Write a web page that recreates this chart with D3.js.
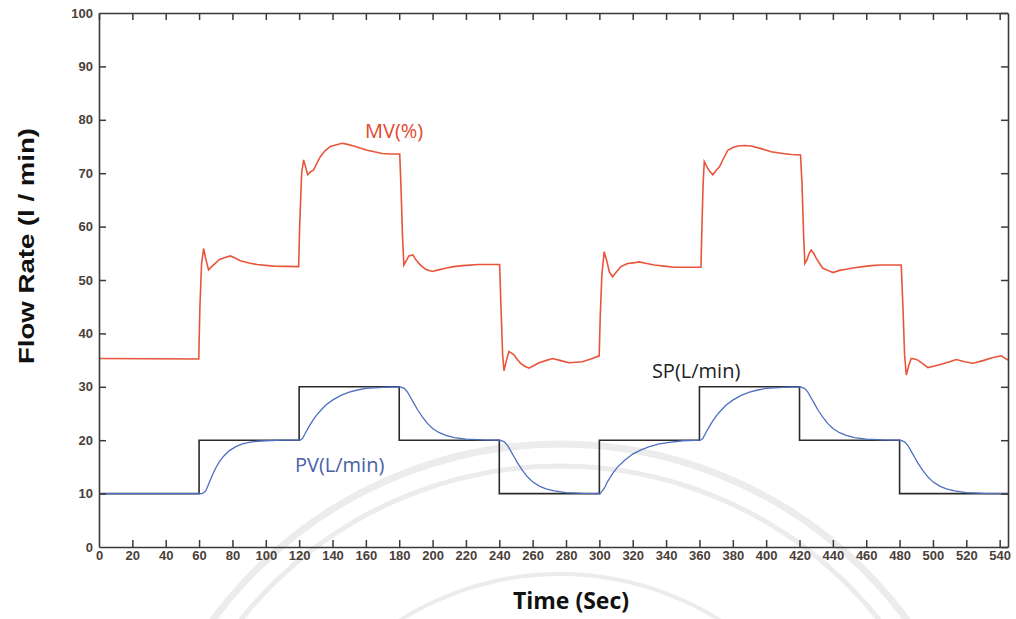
<!DOCTYPE html>
<html>
<head>
<meta charset="utf-8">
<script src="https://cdn.jsdelivr.net/npm/d3@7"></script>
<style>
  body { margin: 0; background: #fff; }
  svg { display: block; }
</style>
</head>
<body>
<div id="chart"></div>
<script>
// axis ticks
const xTicks = d3.range(0, 541, 20);
const yTicks = d3.range(0, 101, 10);

// set point (step)
const spTimes = [0, 60, 120, 180, 240, 300, 360, 420, 480, 545];
const spValues = [10, 20, 30, 20, 10, 20, 30, 20, 10, 10];

// process value
const pvTimes = [
  0, 62, 64, 66, 68, 70, 72, 75, 78, 82, 86, 90, 95, 100, 110,
  120.7, 122, 124, 126, 128, 130, 133, 136, 140, 145, 150, 155, 160, 170,
  180.5, 183, 185, 187, 189, 191, 194, 197, 200, 204, 208, 213, 220, 230,
  240.5, 243, 245, 247, 249, 251, 254, 257, 260, 264, 268, 273, 280, 290,
  300.5, 303, 305, 308, 311, 315, 320, 325, 330, 336, 342, 350,
  360.7, 362, 364, 366, 368, 370, 373, 376, 380, 385, 390, 395, 400, 410,
  420.5, 423, 425, 427, 429, 431, 434, 437, 440, 444, 448, 453, 460, 470,
  480.5, 483, 485, 487, 489, 491, 494, 497, 500, 504, 508, 513, 520, 530, 545
];
const pvValues = [
  10, 10, 10.5, 12, 13.5, 14.8, 15.9, 17.1, 18.0, 18.8, 19.3, 19.6, 19.8, 19.9, 20,
  20, 20.3, 21.5, 22.6, 23.6, 24.5, 25.6, 26.6, 27.5, 28.4, 29.0, 29.4, 29.7, 29.9,
  30, 29.7, 29.0, 27.9, 26.8, 25.7, 24.3, 23.1, 22.2, 21.4, 20.9, 20.5, 20.2, 20.05,
  20, 19.7, 19.0, 17.9, 16.8, 15.7, 14.3, 13.1, 12.2, 11.4, 10.9, 10.5, 10.2, 10.05,
  10, 11, 12.3, 13.8, 15.0, 16.2, 17.4, 18.2, 18.8, 19.3, 19.6, 19.9,
  20, 20.3, 21.5, 22.6, 23.6, 24.5, 25.6, 26.6, 27.5, 28.4, 29.0, 29.4, 29.7, 29.9,
  30, 29.7, 29.0, 27.9, 26.8, 25.7, 24.3, 23.1, 22.2, 21.4, 20.9, 20.5, 20.2, 20.05,
  20, 19.7, 19.0, 17.9, 16.8, 15.7, 14.3, 13.1, 12.2, 11.4, 10.9, 10.5, 10.2, 10.05, 10
];

// manipulated variable
const mvTimes = [
  0, 59.8, 60.5, 61.5, 62.7, 64, 65.7, 67.5, 69.7, 72, 74.7, 78.7, 81, 84.7, 90, 94.7, 104.7, 119.7,
  120.3, 121.5, 122.7, 124, 125.1, 127, 128.7, 130.5, 132.7, 135.5, 138.7, 142, 145.7, 149, 152.7,
  156.5, 160.8, 165, 169.8, 175, 180.3,
  181, 182, 182.8, 184, 185.8, 188.2, 189.5, 191.8, 193.5, 195.8, 199.8, 203.5, 207.8, 212.5, 217.8,
  227.8, 240.2,
  241, 242, 242.8, 244.3, 245.8, 247.3, 248.8, 250.8, 252.8, 255, 257.8, 260.8, 263.8, 267.8, 271.9,
  276.9, 281.9, 285.9, 289.9, 294.9, 299.9,
  300.5, 301.5, 302.9, 304.5, 306, 307.9, 310.4, 312.9, 316.9, 320.4, 323.9, 328.4, 332.9, 338.9,
  344.9, 352.9, 360.9,
  361.5, 362.2, 362.9, 364.5, 366, 368, 370, 372, 374.5, 377, 380, 383, 387, 391, 397, 403, 410, 415, 420.6,
  421.5, 422.5, 423.2, 424.5, 425.8, 427, 428.5, 430, 432, 434, 437, 440, 444, 448, 453, 458, 463, 468, 481,
  482, 483, 484, 485.5, 487, 489, 491, 494, 497, 501, 506, 510, 514, 519, 524, 530, 536, 541, 545
];
const mvValues = [
  35.3, 35.2, 45, 53, 55.9, 54, 51.9, 52.5, 53.1, 53.8, 54.1, 54.5, 54.2, 53.6, 53.2, 52.9, 52.6, 52.5,
  60, 70, 72.5, 71, 69.7, 70.3, 70.6, 71.8, 73.1, 74.2, 75.0, 75.3, 75.6, 75.4, 75.1,
  74.7, 74.3, 74.0, 73.7, 73.6, 73.6,
  68, 58, 52.8, 53.5, 54.5, 54.7, 54.0, 53.1, 52.6, 52.0, 51.6, 51.9, 52.2, 52.5, 52.7,
  52.9, 52.9,
  45, 36, 33.0, 35, 36.6, 36.3, 36.0, 35.1, 34.4, 33.9, 33.5, 34.0, 34.5, 34.9, 35.3,
  34.9, 34.5, 34.6, 34.7, 35.2, 35.8,
  43, 51, 55.3, 53.5, 51.5, 50.6, 51.6, 52.5, 53.1, 53.2, 53.4, 53.1, 52.8, 52.6,
  52.4, 52.4, 52.4,
  60, 68, 72.2, 71.2, 70.4, 69.7, 70.5, 71.2, 72.8, 74.3, 74.8, 75.1, 75.2, 75.1, 74.6, 74.0, 73.7, 73.5, 73.4,
  68, 58, 53.1, 53.8, 55, 55.6, 55.0, 54.1, 53.1, 52.2, 51.8, 51.4, 51.8, 52.0, 52.3, 52.5, 52.7, 52.8, 52.8,
  45, 36, 32.2, 34.0, 35.3, 35.2, 35.0, 34.3, 33.6, 33.9, 34.3, 34.7, 35.1, 34.7, 34.4, 34.9, 35.5, 35.8, 35.0
];

// series labels
const labels = [
  { text: 'MV(%)', t: 159.5, v: 76.6, color: '#e2492d' },
  { text: 'PV(L/min)', t: 117.5, v: 14, color: '#4a62a6' },
  { text: 'SP(L/min)', t: 331.5, v: 31.6, color: '#222' }
];

const width = 1016, height = 619;
const margin = { top: 13, right: 8, bottom: 72, left: 99 };
const innerW = width - margin.left - margin.right;
const innerH = height - margin.top - margin.bottom;

const svg = d3.select('#chart').append('svg')
  .attr('width', width)
  .attr('height', height);

// faint watermark arcs behind the chart
const wm = svg.append('g').attr('fill', 'none').attr('stroke', '#ececec');
wm.append('circle').attr('cx', 560).attr('cy', 874).attr('r', 430).attr('stroke-width', 7);
wm.append('circle').attr('cx', 560).attr('cy', 874).attr('r', 408).attr('stroke-width', 5);
wm.append('circle').attr('cx', 560).attr('cy', 874).attr('r', 300).attr('stroke-width', 4);

const g = svg.append('g').attr('transform', `translate(${margin.left},${margin.top})`);

const x = d3.scaleLinear().domain([0, 545]).range([0, innerW]);
const y = d3.scaleLinear().domain([0, 100]).range([innerH, 0]);

// lines
const line = d3.line().x(d => x(d[0])).y(d => y(d[1]));

g.append('path')
  .datum(d3.zip(spTimes, spValues))
  .attr('fill', 'none')
  .attr('stroke', '#2b2b2b')
  .attr('stroke-width', 1.6)
  .attr('d', line.curve(d3.curveStepAfter));

g.append('path')
  .datum(d3.zip(pvTimes, pvValues))
  .attr('fill', 'none')
  .attr('stroke', '#4d6fc2')
  .attr('stroke-width', 1.3)
  .attr('d', line.curve(d3.curveLinear));

g.append('path')
  .datum(d3.zip(mvTimes, mvValues))
  .attr('fill', 'none')
  .attr('stroke', '#e8553a')
  .attr('stroke-width', 1.6)
  .attr('d', line.curve(d3.curveLinear));

// axes: ticks inside on all four sides
const tickColor = '#3a3a3a';
const axB = g.append('g').attr('transform', `translate(0,${innerH})`)
  .call(d3.axisBottom(x).tickValues(xTicks).tickSizeInner(-7).tickSizeOuter(0).tickPadding(4));
const axT = g.append('g')
  .call(d3.axisTop(x).tickValues(xTicks).tickSizeInner(-7).tickSizeOuter(0).tickFormat(''));
const axL = g.append('g')
  .call(d3.axisLeft(y).tickValues(yTicks).tickSizeInner(-7).tickSizeOuter(0).tickPadding(6));
const axR = g.append('g').attr('transform', `translate(${innerW},0)`)
  .call(d3.axisRight(y).tickValues(yTicks).tickSizeInner(-7).tickSizeOuter(0).tickFormat(''));

[axB, axT, axL, axR].forEach(a => {
  a.select('.domain').attr('stroke', tickColor).attr('stroke-width', 1.6);
  a.selectAll('.tick line').attr('stroke', tickColor).attr('stroke-width', 1.5);
  a.selectAll('.tick text')
    .attr('fill', '#4a4038')
    .style('font-family', '"Liberation Sans", Arial, sans-serif')
    .style('font-weight', 'bold')
    .style('font-size', '13px');
});
// hide the 0/100 ticks that overlap the frame corners
axB.selectAll('.tick line').filter(d => d === 0).remove();
axL.selectAll('.tick line').filter(d => d === 0 || d === 100).remove();

// series labels
g.selectAll('.series-label')
  .data(labels)
  .enter().append('text')
  .attr('class', 'series-label')
  .attr('x', d => x(d.t))
  .attr('y', d => y(d.v))
  .attr('fill', d => d.color)
  .style('font-family', '"Open Sans", sans-serif')
  .style('font-size', '20px')
  .text(d => d.text);

// axis titles
svg.append('text')
  .attr('transform', `translate(34,246) rotate(-90)`)
  .attr('text-anchor', 'middle')
  .attr('textLength', 236)
  .attr('lengthAdjust', 'spacingAndGlyphs')
  .style('font-family', '"Liberation Sans", Arial, sans-serif')
  .style('font-weight', 'bold')
  .style('font-size', '22px')
  .attr('fill', '#111')
  .text('Flow Rate (l / min)');

svg.append('text')
  .attr('x', 571)
  .attr('y', 609)
  .attr('text-anchor', 'middle')
  .style('font-family', '"Open Sans", sans-serif')
  .style('font-weight', 'bold')
  .style('font-size', '23px')
  .attr('fill', '#111')
  .text('Time (Sec)');
</script>
</body>
</html>
